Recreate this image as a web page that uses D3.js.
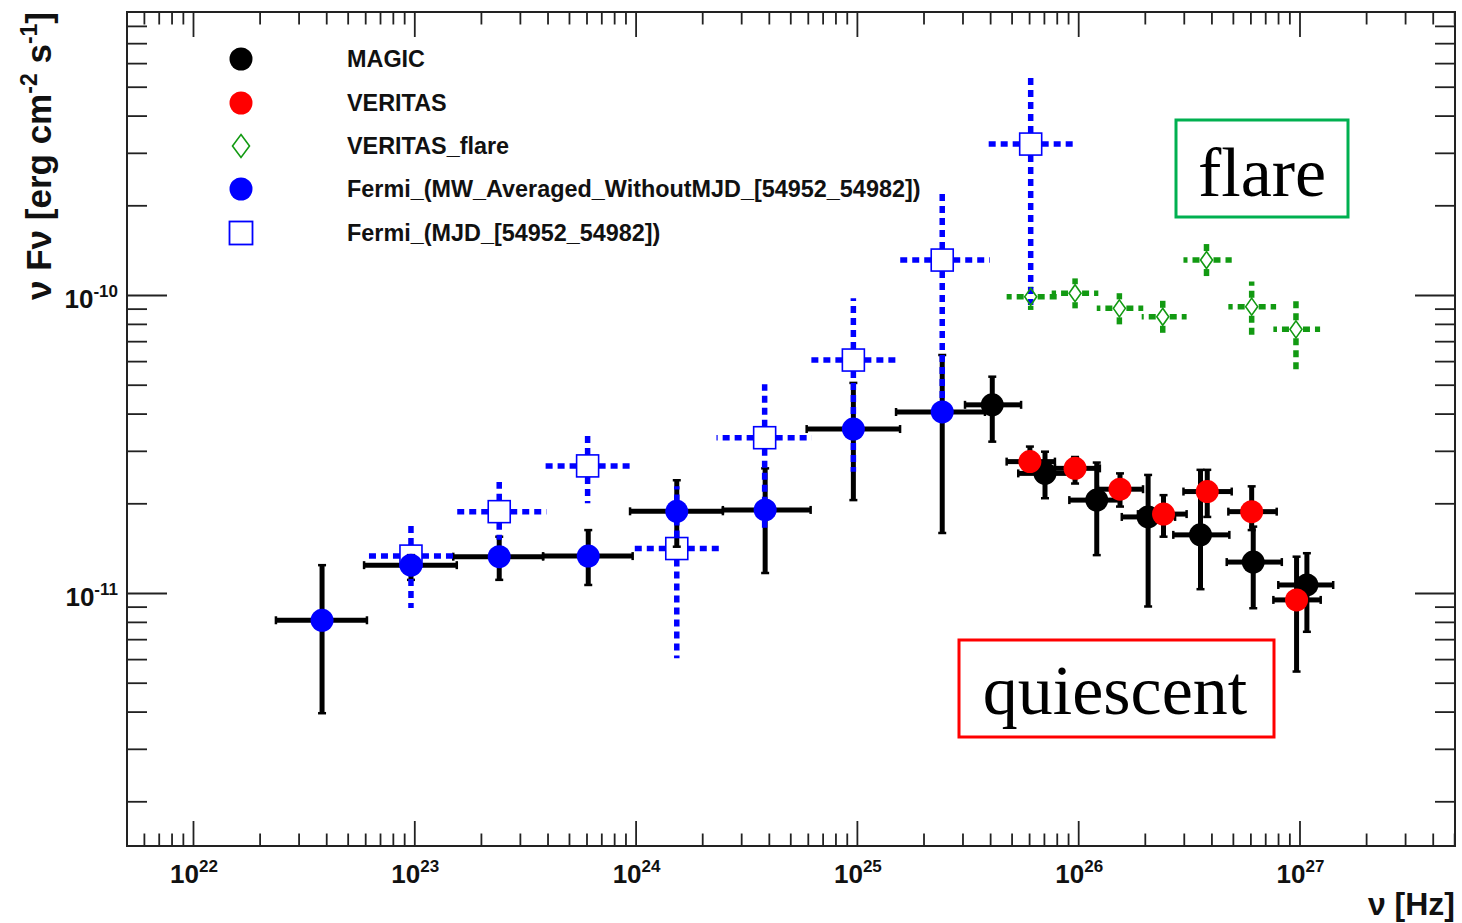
<!DOCTYPE html>
<html>
<head>
<meta charset="utf-8">
<script src="https://cdn.jsdelivr.net/npm/d3@7"></script>
<style>
  body { margin: 0; background: #fff; }
  svg { display: block; }
  .sans { font-family: "Liberation Sans", Arial, sans-serif; }
  .serif { font-family: "Liberation Serif", "Times New Roman", serif; }
</style>
</head>
<body>
<svg id="chart" width="1462" height="923"></svg>
<script>
// ---- Fermi, MW averaged without MJD 54952-54982 (filled blue, solid black errors)
const fermiAvgNu     = [3.83e22, 9.66e22, 2.42e23, 6.11e23, 1.535e24, 3.85e24, 9.64e24, 2.43e25];
const fermiAvgNuLo   = [2.37e22, 5.93e22, 1.50e23, 3.82e23, 9.44e23, 2.48e24, 5.93e24, 1.503e25];
const fermiAvgNuHi   = [6.11e22, 1.556e23, 3.82e23, 9.70e23, 2.48e24, 6.18e24, 1.567e25, 3.79e25];
const fermiAvgFlux   = [8.1e-12, 1.24e-11, 1.324e-11, 1.33e-11, 1.88e-11, 1.90e-11, 3.55e-11, 4.05e-11];
const fermiAvgFluxLo = [3.95e-12, 1.107e-11, 1.107e-11, 1.064e-11, 1.43e-11, 1.167e-11, 2.05e-11, 1.59e-11];
const fermiAvgFluxHi = [1.24e-11, 1.34e-11, 1.545e-11, 1.626e-11, 2.39e-11, 2.62e-11, 5.07e-11, 6.29e-11];

// ---- Fermi, MJD 54952-54982 (open blue squares, dashed blue errors)
const fermiMjdNu     = [9.66e22, 2.42e23, 6.07e23, 1.535e24, 3.83e24, 9.64e24, 2.43e25, 6.10e25];
const fermiMjdNuLo   = [5.93e22, 1.50e23, 3.77e23, 9.44e23, 2.32e24, 5.93e24, 1.503e25, 3.83e25];
const fermiMjdNuHi   = [1.556e23, 3.96e23, 9.77e23, 2.48e24, 6.25e24, 1.567e25, 3.99e25, 9.77e25];
const fermiMjdFlux   = [1.33e-11, 1.875e-11, 2.67e-11, 1.41e-11, 3.32e-11, 6.05e-11, 1.31e-10, 3.21e-10];
const fermiMjdFluxLo = [8.91e-12, 1.51e-11, 2.00e-11, 6.04e-12, 1.65e-11, 2.55e-11, 4.11e-11, 9.25e-11];
const fermiMjdFluxHi = [1.72e-11, 2.36e-11, 3.39e-11, 2.28e-11, 5.02e-11, 9.75e-11, 2.25e-10, 5.55e-10];

// ---- MAGIC (filled black)
const magicNu     = [4.09e25, 7.08e25, 1.213e26, 2.07e26, 3.57e26, 6.18e26, 1.08e27];
const magicNuLo   = [3.08e25, 5.36e25, 9.12e25, 1.574e26, 2.69e26, 4.69e26, 8.02e26];
const magicNuHi   = [5.52e25, 9.68e25, 1.545e26, 2.74e26, 4.82e26, 8.32e26, 1.42e27];
const magicFlux   = [4.28e-11, 2.52e-11, 2.05e-11, 1.80e-11, 1.567e-11, 1.27e-11, 1.064e-11];
const magicFluxLo = [3.22e-11, 2.08e-11, 1.34e-11, 9.01e-12, 1.03e-11, 8.89e-12, 7.41e-12];
const magicFluxHi = [5.32e-11, 2.98e-11, 2.74e-11, 2.49e-11, 2.59e-11, 1.67e-11, 1.36e-11];

// ---- VERITAS (filled red)
const veritasNu     = [6.05e25, 9.68e25, 1.545e26, 2.43e26, 3.83e26, 6.08e26, 9.70e26];
const veritasNuLo   = [4.75e25, 7.85e25, 1.228e26, 1.862e26, 2.99e26, 4.77e26, 7.62e26];
const veritasNuHi   = [7.85e25, 1.253e26, 1.963e26, 3.09e26, 4.94e26, 7.89e26, 1.247e27];
const veritasFlux   = [2.76e-11, 2.62e-11, 2.23e-11, 1.84e-11, 2.19e-11, 1.875e-11, 9.48e-12];
const veritasFluxLo = [2.55e-11, 2.33e-11, 1.95e-11, 1.545e-11, 1.80e-11, 1.626e-11, 5.45e-12];
const veritasFluxHi = [3.10e-11, 2.86e-11, 2.52e-11, 2.13e-11, 2.59e-11, 2.28e-11, 1.324e-11];

// ---- VERITAS flare (open green diamonds, dashed green errors)
const flareNu     = [6.10e25, 9.68e25, 1.535e26, 2.41e26, 3.80e26, 6.08e26, 9.64e26];
const flareNuLo   = [4.75e25, 7.59e25, 1.213e26, 1.936e26, 2.99e26, 4.77e26, 7.62e26];
const flareNuHi   = [8.00e25, 1.233e26, 1.968e26, 3.09e26, 4.94e26, 7.84e26, 1.239e27];
const flareFlux   = [9.86e-11, 1.014e-10, 9.02e-11, 8.45e-11, 1.31e-10, 9.14e-11, 7.67e-11];
const flareFluxLo = [8.91e-11, 9.02e-11, 7.93e-11, 7.24e-11, 1.122e-10, 7.24e-11, 5.53e-11];
const flareFluxHi = [1.066e-10, 1.137e-10, 1.014e-10, 9.75e-11, 1.51e-10, 1.109e-10, 9.86e-11];

// ---- axis tick values and labels
const xMajorTicks  = [1e22, 1e23, 1e24, 1e25, 1e26, 1e27];
const xTickExps    = ["22", "23", "24", "25", "26", "27"];
const yMajorTicks  = [1e-11, 1e-10];
const yTickExps    = ["-11", "-10"];

const legendLabels = ["MAGIC", "VERITAS", "VERITAS_flare",
                      "Fermi_(MW_Averaged_WithoutMJD_[54952_54982])", "Fermi_(MJD_[54952_54982])"];

// ---- frame geometry
const L = 127, R = 1455, T = 12, B = 846;
const svg = d3.select("#chart");

const x = d3.scaleLog().domain([Math.pow(10, 21.7018), Math.pow(10, 27.7027)]).range([L, R]);
const y = d3.scaleLog().domain([Math.pow(10, -11.849), Math.pow(10, -9.0503)]).range([B, T]);

function minorTicks(scale, d0, d1) {
  const [a, b] = scale.domain();
  const out = [];
  for (let d = d0; d <= d1; d++) {
    for (let k = 2; k <= 9; k++) {
      const v = k * Math.pow(10, d);
      if (v > a * 1.001 && v < b * 0.999) out.push(v);
    }
  }
  return out;
}
const xMinorTicks = minorTicks(x, 21, 27);
const yMinorTicks = minorTicks(y, -12, -10);

// ---- axes (ticks drawn inward on all four sides)
function tickAxis(axisFn, scale, values, size, tr) {
  const a = axisFn(scale).tickValues(values).tickSize(size).tickFormat("");
  const g = svg.append("g").attr("transform", tr).call(a);
  g.select(".domain").remove();
  g.selectAll("line").attr("stroke", "#222").attr("stroke-width", 1.8);
  return g;
}
tickAxis(d3.axisBottom, x, xMajorTicks, -25, `translate(0,${B})`);
tickAxis(d3.axisBottom, x, xMinorTicks, -12.5, `translate(0,${B})`);
tickAxis(d3.axisTop, x, xMajorTicks, -25, `translate(0,${T})`);
tickAxis(d3.axisTop, x, xMinorTicks, -12.5, `translate(0,${T})`);
tickAxis(d3.axisLeft, y, yMajorTicks, -40, `translate(${L},0)`);
tickAxis(d3.axisLeft, y, yMinorTicks, -20, `translate(${L},0)`);
tickAxis(d3.axisRight, y, yMajorTicks, -40, `translate(${R},0)`);
tickAxis(d3.axisRight, y, yMinorTicks, -20, `translate(${R},0)`);

// frame
svg.append("rect").attr("x", L).attr("y", T).attr("width", R - L).attr("height", B - T)
  .attr("fill", "none").attr("stroke", "#222").attr("stroke-width", 2);

// ---- tick labels 10^n
const tickColor = "#111";
xMajorTicks.forEach((v, i) => {
  const t = svg.append("text").attr("class", "sans").attr("x", x(v) + 1).attr("y", 883)
    .attr("text-anchor", "middle").attr("font-weight", "bold").attr("font-size", 26).attr("fill", tickColor);
  t.append("tspan").text("10");
  t.append("tspan").attr("font-size", 17).attr("dy", -11).text(xTickExps[i]);
});
yMajorTicks.forEach((v, i) => {
  const t = svg.append("text").attr("class", "sans").attr("x", 118).attr("y", y(v) + 13)
    .attr("text-anchor", "end").attr("font-weight", "bold").attr("font-size", 26).attr("fill", tickColor);
  t.append("tspan").text("10");
  t.append("tspan").attr("font-size", 17).attr("dy", -11).text(yTickExps[i]);
});

// ---- axis titles
const yTitle = svg.append("text").attr("class", "sans").attr("transform", "translate(51,12) rotate(-90)")
  .attr("text-anchor", "end").attr("font-weight", "bold").attr("font-size", 35).attr("fill", tickColor);
yTitle.append("tspan").text("\u03BD F\u03BD [erg cm");
yTitle.append("tspan").attr("font-size", 23).attr("dy", -14).text("-2");
yTitle.append("tspan").attr("dy", 14).text(" s");
yTitle.append("tspan").attr("font-size", 23).attr("dy", -14).text("-1");
yTitle.append("tspan").attr("dy", 14).text("]");

svg.append("text").attr("class", "sans").attr("x", 1455).attr("y", 915).attr("text-anchor", "end")
  .attr("font-weight", "bold").attr("font-size", 32).attr("fill", tickColor).text("\u03BD [Hz]");

// ---- error bars: four arms starting at the marker edge
function series(nu, nuLo, nuHi, f, fLo, fHi) {
  return nu.map((v, i) => ({ nu: v, nuLo: nuLo[i], nuHi: nuHi[i], f: f[i], fLo: fLo[i], fHi: fHi[i] }));
}
const magic   = series(magicNu, magicNuLo, magicNuHi, magicFlux, magicFluxLo, magicFluxHi);
const veritas = series(veritasNu, veritasNuLo, veritasNuHi, veritasFlux, veritasFluxLo, veritasFluxHi);
const flare   = series(flareNu, flareNuLo, flareNuHi, flareFlux, flareFluxLo, flareFluxHi);
const fAvg    = series(fermiAvgNu, fermiAvgNuLo, fermiAvgNuHi, fermiAvgFlux, fermiAvgFluxLo, fermiAvgFluxHi);
const fMjd    = series(fermiMjdNu, fermiMjdNuLo, fermiMjdNuHi, fermiMjdFlux, fermiMjdFluxLo, fermiMjdFluxHi);

function errorBars(data, color, width, dash, gx, gy) {
  const g = svg.append("g").attr("stroke", color).attr("stroke-width", width).attr("fill", "none");
  if (dash) g.attr("stroke-dasharray", dash);
  data.forEach(d => {
    const cx = x(d.nu), cy = y(d.f);
    const arms = [
      [cx - gx, cy, x(d.nuLo), cy],
      [cx + gx, cy, x(d.nuHi), cy],
      [cx, cy - gy, cx, y(d.fHi)],
      [cx, cy + gy, cx, y(d.fLo)]
    ];
    arms.forEach(a => {
      const len = Math.hypot(a[2] - a[0], a[3] - a[1]);
      if ((a[2] - a[0]) * (a[0] - cx) < 0 || (a[3] - a[1]) * (a[1] - cy) < 0 || len < 0.5) return;
      g.append("line").attr("x1", a[0]).attr("y1", a[1]).attr("x2", a[2]).attr("y2", a[3]);
    });
    if (!dash) {
      // small end caps
      const c = g.append("g").attr("stroke-width", 2.5);
      c.append("line").attr("x1", x(d.nuLo)).attr("x2", x(d.nuLo)).attr("y1", cy - 4).attr("y2", cy + 4);
      c.append("line").attr("x1", x(d.nuHi)).attr("x2", x(d.nuHi)).attr("y1", cy - 4).attr("y2", cy + 4);
      c.append("line").attr("y1", y(d.fLo)).attr("y2", y(d.fLo)).attr("x1", cx - 4).attr("x2", cx + 4);
      c.append("line").attr("y1", y(d.fHi)).attr("y2", y(d.fHi)).attr("x1", cx - 4).attr("x2", cx + 4);
    }
  });
}
const BLUE = "#0000ff", RED = "#ff0000", GREEN = "#129a12", BLACK = "#000";

errorBars(magic, BLACK, 5, null, 0, 0);
errorBars(veritas, BLACK, 5, null, 0, 0);
errorBars(flare, GREEN, 5.5, "7,5", 7, 9);
errorBars(fAvg, BLACK, 5, null, 0, 0);
errorBars(fMjd, BLUE, 5.5, "7,5", 11, 11);

// ---- markers
function squares(data) {
  svg.append("g").selectAll("rect").data(data).join("rect")
    .attr("x", d => x(d.nu) - 11).attr("y", d => y(d.f) - 11)
    .attr("width", 22).attr("height", 22)
    .attr("fill", "none").attr("stroke", BLUE).attr("stroke-width", 1.6);
}
function diamondPath(cx, cy, w, h) {
  return `M${cx},${cy - h}L${cx + w},${cy}L${cx},${cy + h}L${cx - w},${cy}Z`;
}
function diamonds(data) {
  svg.append("g").selectAll("path").data(data).join("path")
    .attr("d", d => diamondPath(x(d.nu), y(d.f), 6, 8.5))
    .attr("fill", "none").attr("stroke", GREEN).attr("stroke-width", 1.6);
}
function dots(data, color) {
  svg.append("g").selectAll("circle").data(data).join("circle")
    .attr("cx", d => x(d.nu)).attr("cy", d => y(d.f)).attr("r", 11.5).attr("fill", color);
}
squares(fMjd);
diamonds(flare);
dots(magic, BLACK);
dots(veritas, RED);
dots(fAvg, BLUE);

// ---- legend
const legY = [59, 103, 146, 189, 233];
const legX = 241;
const leg = svg.append("g");
leg.append("circle").attr("cx", legX).attr("cy", legY[0]).attr("r", 11.5).attr("fill", BLACK);
leg.append("circle").attr("cx", legX).attr("cy", legY[1]).attr("r", 11.5).attr("fill", RED);
leg.append("path").attr("d", diamondPath(legX, legY[2], 8.5, 11.5))
  .attr("fill", "none").attr("stroke", GREEN).attr("stroke-width", 1.6);
leg.append("circle").attr("cx", legX).attr("cy", legY[3]).attr("r", 11.5).attr("fill", BLUE);
leg.append("rect").attr("x", legX - 11.5).attr("y", legY[4] - 11.5).attr("width", 23).attr("height", 23)
  .attr("fill", "none").attr("stroke", BLUE).attr("stroke-width", 1.8);
legendLabels.forEach((s, i) => {
  leg.append("text").attr("class", "sans").attr("x", 347).attr("y", legY[i] + 8)
    .attr("font-weight", "bold").attr("font-size", 23.4).attr("fill", "#111").text(s);
});

// ---- state annotations
svg.append("rect").attr("x", 1176).attr("y", 120).attr("width", 172).attr("height", 97)
  .attr("fill", "none").attr("stroke", "#00b050").attr("stroke-width", 3);
svg.append("text").attr("class", "serif").attr("x", 1262).attr("y", 196).attr("text-anchor", "middle")
  .attr("font-size", 70).attr("fill", "#000").text("flare");

svg.append("rect").attr("x", 959).attr("y", 640).attr("width", 315).attr("height", 97)
  .attr("fill", "none").attr("stroke", "#ff0000").attr("stroke-width", 3);
svg.append("text").attr("class", "serif").attr("x", 1115).attr("y", 714).attr("text-anchor", "middle")
  .attr("font-size", 70).attr("fill", "#000").text("quiescent");
</script>
</body>
</html>
